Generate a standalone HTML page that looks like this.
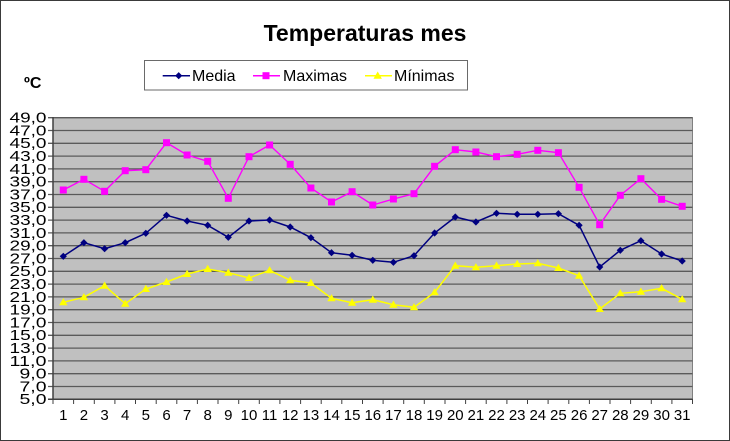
<!DOCTYPE html>
<html><head><meta charset="utf-8"><style>
html,body{margin:0;padding:0;background:#fff;}
svg{display:block;}
text{font-family:"Liberation Sans",Arial,sans-serif;fill:#000;}
</style></head><body>
<svg width="730" height="441" viewBox="0 0 730 441" xmlns="http://www.w3.org/2000/svg">
<defs>
<rect id="sq" x="-3.5" y="-3.5" width="7" height="7" fill="#ff00ff"/>
<path id="dm" d="M0,-3.6 L3.6,0 L0,3.6 L-3.6,0Z" fill="#000080"/>
<path id="tr" d="M0,-4.2 L4.2,3 L-4.2,3Z" fill="#ffff00"/>
</defs>
<rect x="0.5" y="0.5" width="729" height="440" fill="#fff" stroke="#3a3a3a" stroke-width="1"/>
<text x="365" y="41" font-size="23" font-weight="bold" text-anchor="middle">Temperaturas mes</text>
<text x="24" y="88" font-size="16" font-weight="bold">ºC</text>
<!-- legend -->
<rect x="144.5" y="60.5" width="323" height="29.5" fill="#fff" stroke="#6a6a6a" stroke-width="1"/>
<line x1="162.7" y1="75.7" x2="190" y2="75.7" stroke="#000080" stroke-width="1.5"/>
<use href="#dm" x="178.7" y="75.7"/>
<text x="192" y="81" font-size="16">Media</text>
<line x1="253" y1="75.7" x2="280" y2="75.7" stroke="#ff00ff" stroke-width="1.5"/>
<use href="#sq" x="266" y="75.7"/>
<text x="283" y="81" font-size="16">Maximas</text>
<line x1="365" y1="75.7" x2="392" y2="75.7" stroke="#ffff00" stroke-width="1.5"/>
<use href="#tr" x="377.7" y="75.7"/>
<text x="394" y="81" font-size="16">Mínimas</text>
<!-- plot area -->
<rect x="53" y="117.7" width="639.5" height="281.6" fill="#c0c0c0" stroke="#808080" stroke-width="1"/>
<g stroke="#5a5a5a" stroke-width="1.3">
<line x1="48" y1="117.7" x2="692.5" y2="117.7"/>
<line x1="48" y1="130.5" x2="692.5" y2="130.5"/>
<line x1="48" y1="143.3" x2="692.5" y2="143.3"/>
<line x1="48" y1="156.1" x2="692.5" y2="156.1"/>
<line x1="48" y1="168.9" x2="692.5" y2="168.9"/>
<line x1="48" y1="181.7" x2="692.5" y2="181.7"/>
<line x1="48" y1="194.5" x2="692.5" y2="194.5"/>
<line x1="48" y1="207.3" x2="692.5" y2="207.3"/>
<line x1="48" y1="220.1" x2="692.5" y2="220.1"/>
<line x1="48" y1="232.9" x2="692.5" y2="232.9"/>
<line x1="48" y1="245.7" x2="692.5" y2="245.7"/>
<line x1="48" y1="258.5" x2="692.5" y2="258.5"/>
<line x1="48" y1="271.3" x2="692.5" y2="271.3"/>
<line x1="48" y1="284.1" x2="692.5" y2="284.1"/>
<line x1="48" y1="296.9" x2="692.5" y2="296.9"/>
<line x1="48" y1="309.7" x2="692.5" y2="309.7"/>
<line x1="48" y1="322.5" x2="692.5" y2="322.5"/>
<line x1="48" y1="335.3" x2="692.5" y2="335.3"/>
<line x1="48" y1="348.1" x2="692.5" y2="348.1"/>
<line x1="48" y1="360.9" x2="692.5" y2="360.9"/>
<line x1="48" y1="373.7" x2="692.5" y2="373.7"/>
<line x1="48" y1="386.5" x2="692.5" y2="386.5"/>
</g>
<line x1="53" y1="117" x2="53" y2="400" stroke="#404040" stroke-width="1.5"/>
<line x1="48" y1="399.3" x2="692.5" y2="399.3" stroke="#404040" stroke-width="1.5"/>
<g stroke="#404040" stroke-width="1">
<line x1="53" y1="399" x2="53" y2="404"/><line x1="73.6" y1="399" x2="73.6" y2="404"/><line x1="94.3" y1="399" x2="94.3" y2="404"/><line x1="114.9" y1="399" x2="114.9" y2="404"/><line x1="135.5" y1="399" x2="135.5" y2="404"/><line x1="156.2" y1="399" x2="156.2" y2="404"/><line x1="176.8" y1="399" x2="176.8" y2="404"/><line x1="197.4" y1="399" x2="197.4" y2="404"/><line x1="218" y1="399" x2="218" y2="404"/><line x1="238.7" y1="399" x2="238.7" y2="404"/><line x1="259.3" y1="399" x2="259.3" y2="404"/><line x1="279.9" y1="399" x2="279.9" y2="404"/><line x1="300.6" y1="399" x2="300.6" y2="404"/><line x1="321.2" y1="399" x2="321.2" y2="404"/><line x1="341.8" y1="399" x2="341.8" y2="404"/><line x1="362.5" y1="399" x2="362.5" y2="404"/><line x1="383.1" y1="399" x2="383.1" y2="404"/><line x1="403.7" y1="399" x2="403.7" y2="404"/><line x1="424.3" y1="399" x2="424.3" y2="404"/><line x1="445" y1="399" x2="445" y2="404"/><line x1="465.6" y1="399" x2="465.6" y2="404"/><line x1="486.2" y1="399" x2="486.2" y2="404"/><line x1="506.9" y1="399" x2="506.9" y2="404"/><line x1="527.5" y1="399" x2="527.5" y2="404"/><line x1="548.1" y1="399" x2="548.1" y2="404"/><line x1="568.8" y1="399" x2="568.8" y2="404"/><line x1="589.4" y1="399" x2="589.4" y2="404"/><line x1="610" y1="399" x2="610" y2="404"/><line x1="630.6" y1="399" x2="630.6" y2="404"/><line x1="651.3" y1="399" x2="651.3" y2="404"/><line x1="671.9" y1="399" x2="671.9" y2="404"/><line x1="692.5" y1="399" x2="692.5" y2="404"/>
</g>
<!-- y labels -->
<g font-size="15" text-anchor="end">
<text x="46.5" y="122.6" textLength="37" lengthAdjust="spacingAndGlyphs">49,0</text>
<text x="46.5" y="135.4" textLength="37" lengthAdjust="spacingAndGlyphs">47,0</text>
<text x="46.5" y="148.2" textLength="37" lengthAdjust="spacingAndGlyphs">45,0</text>
<text x="46.5" y="161" textLength="37" lengthAdjust="spacingAndGlyphs">43,0</text>
<text x="46.5" y="173.8" textLength="37" lengthAdjust="spacingAndGlyphs">41,0</text>
<text x="46.5" y="186.6" textLength="37" lengthAdjust="spacingAndGlyphs">39,0</text>
<text x="46.5" y="199.4" textLength="37" lengthAdjust="spacingAndGlyphs">37,0</text>
<text x="46.5" y="212.2" textLength="37" lengthAdjust="spacingAndGlyphs">35,0</text>
<text x="46.5" y="225" textLength="37" lengthAdjust="spacingAndGlyphs">33,0</text>
<text x="46.5" y="237.8" textLength="37" lengthAdjust="spacingAndGlyphs">31,0</text>
<text x="46.5" y="250.6" textLength="37" lengthAdjust="spacingAndGlyphs">29,0</text>
<text x="46.5" y="263.4" textLength="37" lengthAdjust="spacingAndGlyphs">27,0</text>
<text x="46.5" y="276.2" textLength="37" lengthAdjust="spacingAndGlyphs">25,0</text>
<text x="46.5" y="289" textLength="37" lengthAdjust="spacingAndGlyphs">23,0</text>
<text x="46.5" y="301.8" textLength="37" lengthAdjust="spacingAndGlyphs">21,0</text>
<text x="46.5" y="314.6" textLength="37" lengthAdjust="spacingAndGlyphs">19,0</text>
<text x="46.5" y="327.4" textLength="37" lengthAdjust="spacingAndGlyphs">17,0</text>
<text x="46.5" y="340.2" textLength="37" lengthAdjust="spacingAndGlyphs">15,0</text>
<text x="46.5" y="353" textLength="37" lengthAdjust="spacingAndGlyphs">13,0</text>
<text x="46.5" y="365.8" textLength="37" lengthAdjust="spacingAndGlyphs">11,0</text>
<text x="46.5" y="378.6" textLength="27" lengthAdjust="spacingAndGlyphs">9,0</text>
<text x="46.5" y="391.4" textLength="27" lengthAdjust="spacingAndGlyphs">7,0</text>
<text x="46.5" y="404.2" textLength="27" lengthAdjust="spacingAndGlyphs">5,0</text>
</g>
<!-- x labels -->
<g font-size="15" text-anchor="middle">
<text x="63.3" y="420">1</text><text x="83.9" y="420">2</text><text x="104.6" y="420">3</text><text x="125.2" y="420">4</text><text x="145.8" y="420">5</text><text x="166.5" y="420">6</text><text x="187.1" y="420">7</text><text x="207.7" y="420">8</text><text x="228.3" y="420">9</text><text x="249" y="420">10</text><text x="269.6" y="420">11</text><text x="290.2" y="420">12</text><text x="310.9" y="420">13</text><text x="331.5" y="420">14</text><text x="352.1" y="420">15</text><text x="372.8" y="420">16</text><text x="393.4" y="420">17</text><text x="414" y="420">18</text><text x="434.6" y="420">19</text><text x="455.3" y="420">20</text><text x="475.9" y="420">21</text><text x="496.5" y="420">22</text><text x="517.2" y="420">23</text><text x="537.8" y="420">24</text><text x="558.4" y="420">25</text><text x="579.1" y="420">26</text><text x="599.7" y="420">27</text><text x="620.3" y="420">28</text><text x="640.9" y="420">29</text><text x="661.6" y="420">30</text><text x="682.2" y="420">31</text>
</g>
<!-- series: Maximas -->
<polyline fill="none" stroke="#ff00ff" stroke-width="1.4" points="63.3,190 83.9,179.3 104.6,191.3 125.2,170.7 145.8,169.7 166.5,142.7 187.1,155 207.7,161.3 228.3,198.3 249,156.7 269.6,145 290.2,164.3 310.9,188 331.5,202 352.1,191.7 372.8,205 393.4,199 414,193.7 434.6,166.3 455.3,149.7 475.9,152 496.5,156.7 517.2,154.3 537.8,150.3 558.4,152.7 579.1,187.3 599.7,224.7 620.3,195.3 640.9,178.7 661.6,199.3 682.2,206.3"/>
<!-- Media -->
<polyline fill="none" stroke="#000080" stroke-width="1.5" points="63.3,256.3 83.9,242.7 104.6,248.7 125.2,242.7 145.8,233.3 166.5,215.3 187.1,221 207.7,225.3 228.3,237.3 249,221 269.6,220 290.2,227 310.9,237.7 331.5,252.7 352.1,255.3 372.8,260.3 393.4,262.3 414,255.7 434.6,233 455.3,217 475.9,222 496.5,213.3 517.2,214.3 537.8,214.3 558.4,213.7 579.1,225.3 599.7,267 620.3,250.3 640.9,240.7 661.6,254 682.2,261"/>
<!-- Minimas -->
<polyline fill="none" stroke="#ffff00" stroke-width="1.5" points="63.3,302.3 83.9,297.3 104.6,285.7 125.2,303.7 145.8,289 166.5,282 187.1,274 207.7,269 228.3,272.7 249,278 269.6,270.3 290.2,280.3 310.9,283 331.5,298.3 352.1,302.7 372.8,299.7 393.4,304.7 414,307.3 434.6,292.3 455.3,265.7 475.9,267.3 496.5,265.7 517.2,264 537.8,263.3 558.4,268 579.1,275.7 599.7,309 620.3,293.3 640.9,291.7 661.6,288.3 682.2,299.3"/>
<!-- markers max -->
<g>
<use href="#sq" x="63.3" y="190"/><use href="#sq" x="83.9" y="179.3"/><use href="#sq" x="104.6" y="191.3"/><use href="#sq" x="125.2" y="170.7"/><use href="#sq" x="145.8" y="169.7"/><use href="#sq" x="166.5" y="142.7"/><use href="#sq" x="187.1" y="155"/><use href="#sq" x="207.7" y="161.3"/><use href="#sq" x="228.3" y="198.3"/><use href="#sq" x="249" y="156.7"/><use href="#sq" x="269.6" y="145"/><use href="#sq" x="290.2" y="164.3"/><use href="#sq" x="310.9" y="188"/><use href="#sq" x="331.5" y="202"/><use href="#sq" x="352.1" y="191.7"/><use href="#sq" x="372.8" y="205"/><use href="#sq" x="393.4" y="199"/><use href="#sq" x="414" y="193.7"/><use href="#sq" x="434.6" y="166.3"/><use href="#sq" x="455.3" y="149.7"/><use href="#sq" x="475.9" y="152"/><use href="#sq" x="496.5" y="156.7"/><use href="#sq" x="517.2" y="154.3"/><use href="#sq" x="537.8" y="150.3"/><use href="#sq" x="558.4" y="152.7"/><use href="#sq" x="579.1" y="187.3"/><use href="#sq" x="599.7" y="224.7"/><use href="#sq" x="620.3" y="195.3"/><use href="#sq" x="640.9" y="178.7"/><use href="#sq" x="661.6" y="199.3"/><use href="#sq" x="682.2" y="206.3"/>
</g>
<g>
<use href="#dm" x="63.3" y="256.3"/><use href="#dm" x="83.9" y="242.7"/><use href="#dm" x="104.6" y="248.7"/><use href="#dm" x="125.2" y="242.7"/><use href="#dm" x="145.8" y="233.3"/><use href="#dm" x="166.5" y="215.3"/><use href="#dm" x="187.1" y="221"/><use href="#dm" x="207.7" y="225.3"/><use href="#dm" x="228.3" y="237.3"/><use href="#dm" x="249" y="221"/><use href="#dm" x="269.6" y="220"/><use href="#dm" x="290.2" y="227"/><use href="#dm" x="310.9" y="237.7"/><use href="#dm" x="331.5" y="252.7"/><use href="#dm" x="352.1" y="255.3"/><use href="#dm" x="372.8" y="260.3"/><use href="#dm" x="393.4" y="262.3"/><use href="#dm" x="414" y="255.7"/><use href="#dm" x="434.6" y="233"/><use href="#dm" x="455.3" y="217"/><use href="#dm" x="475.9" y="222"/><use href="#dm" x="496.5" y="213.3"/><use href="#dm" x="517.2" y="214.3"/><use href="#dm" x="537.8" y="214.3"/><use href="#dm" x="558.4" y="213.7"/><use href="#dm" x="579.1" y="225.3"/><use href="#dm" x="599.7" y="267"/><use href="#dm" x="620.3" y="250.3"/><use href="#dm" x="640.9" y="240.7"/><use href="#dm" x="661.6" y="254"/><use href="#dm" x="682.2" y="261"/>
</g>
<g>
<use href="#tr" x="63.3" y="302.3"/><use href="#tr" x="83.9" y="297.3"/><use href="#tr" x="104.6" y="285.7"/><use href="#tr" x="125.2" y="303.7"/><use href="#tr" x="145.8" y="289"/><use href="#tr" x="166.5" y="282"/><use href="#tr" x="187.1" y="274"/><use href="#tr" x="207.7" y="269"/><use href="#tr" x="228.3" y="272.7"/><use href="#tr" x="249" y="278"/><use href="#tr" x="269.6" y="270.3"/><use href="#tr" x="290.2" y="280.3"/><use href="#tr" x="310.9" y="283"/><use href="#tr" x="331.5" y="298.3"/><use href="#tr" x="352.1" y="302.7"/><use href="#tr" x="372.8" y="299.7"/><use href="#tr" x="393.4" y="304.7"/><use href="#tr" x="414" y="307.3"/><use href="#tr" x="434.6" y="292.3"/><use href="#tr" x="455.3" y="265.7"/><use href="#tr" x="475.9" y="267.3"/><use href="#tr" x="496.5" y="265.7"/><use href="#tr" x="517.2" y="264"/><use href="#tr" x="537.8" y="263.3"/><use href="#tr" x="558.4" y="268"/><use href="#tr" x="579.1" y="275.7"/><use href="#tr" x="599.7" y="309"/><use href="#tr" x="620.3" y="293.3"/><use href="#tr" x="640.9" y="291.7"/><use href="#tr" x="661.6" y="288.3"/><use href="#tr" x="682.2" y="299.3"/>
</g>
</svg>
</body></html>
